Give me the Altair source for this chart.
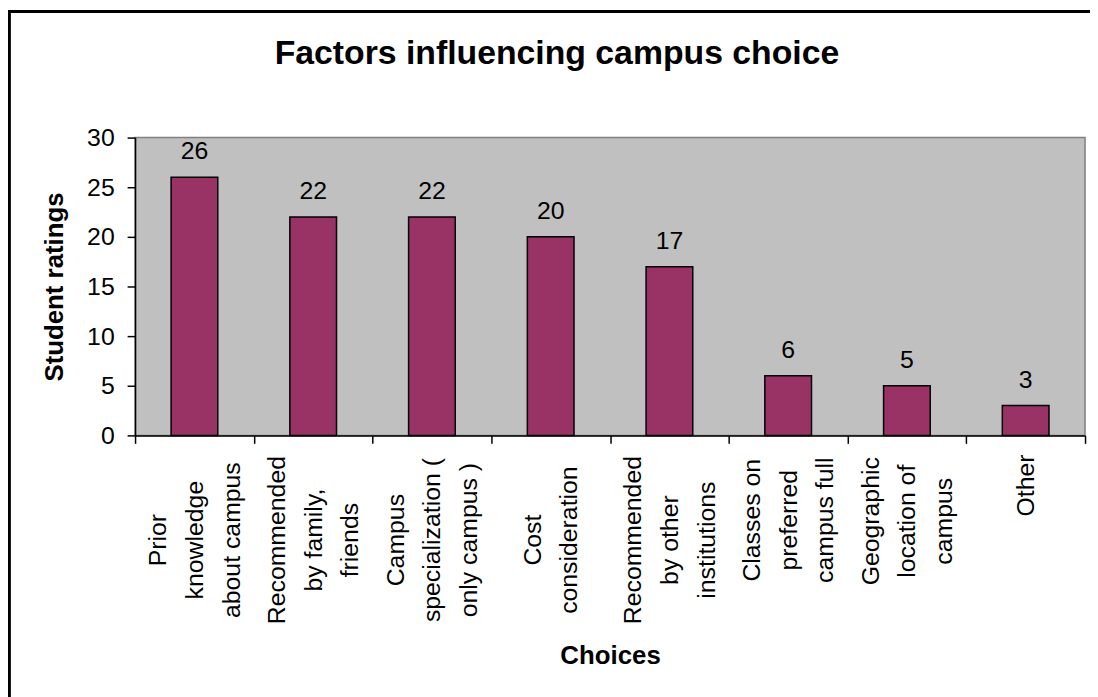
import altair as alt
import pandas as pd

# ---- data ----
title_text = "Factors influencing campus choice"
categories = [
    "Prior\nknowledge\nabout campus",
    "Recommended\nby family,\nfriends",
    "Campus\nspecialization (\nonly campus )",
    "Cost\nconsideration",
    "Recommended\nby other\ninstitutions",
    "Classes on\npreferred\ncampus full",
    "Geographic\nlocation of\ncampus",
    "Other",
]
ratings = [26, 22, 22, 20, 17, 6, 5, 3]
y_ticks = [0, 5, 10, 15, 20, 25, 30]

df = pd.DataFrame({"choice": categories, "rating": ratings})
df_title = pd.DataFrame({"t": [title_text]})

FONT = "Liberation Sans"
W, H = 957, 300
LINE_H = 37


def is_cat(name):
    return "datum.value == '" + name.replace("\n", "\\n") + "'"


# shorter label blocks sit closer to the axis (their tops line up with the others)
label_padding = {
    "condition": [
        {"test": is_cat(categories[7]), "value": 42},
        {"test": is_cat(categories[5]), "value": 77},
        {"test": is_cat(categories[6]), "value": 78},
    ],
    "value": 97,
}

# centre each multi-line block on its band
label_offset = {
    "condition": [
        {"test": is_cat(categories[7]), "value": 0},
        {"test": is_cat(categories[3]), "value": -LINE_H / 2},
    ],
    "value": -LINE_H,
}

x_enc = alt.X(
    "choice:N",
    sort=None,
    title="Choices",
    scale=alt.Scale(paddingInner=0, paddingOuter=0),
    axis=alt.Axis(
        labelAngle=270,
        labelAlign="center",
        labelBaseline="middle",
        labelExpr="split(datum.label, '\\n')",
        labelLineHeight=LINE_H,
        labelFontSize=25,
        labelPadding=label_padding,
        labelOffset=label_offset,
        labelLimit=400,
        tickBand="extent",
        tickSize=8,
        tickColor="black",
        tickWidth=1.5,
        domainColor="black",
        domainWidth=1.5,
        grid=False,
        titleFontSize=26,
        titleFontWeight="bold",
        titleBaseline="alphabetic",
        titleY=230,
    ),
)

y_enc = alt.Y(
    "rating:Q",
    title="Student ratings",
    scale=alt.Scale(domain=[0, 30], nice=False),
    axis=alt.Axis(
        values=y_ticks,
        grid=False,
        tickSize=8,
        tickColor="black",
        tickWidth=1.5,
        domainColor="black",
        domainWidth=1.5,
        labelFontSize=25,
        labelPadding=13,
        titleFontSize=26,
        titleFontWeight="bold",
        titleBaseline="alphabetic",
        titleX=-73,
        titleY=H / 2,
    ),
)

border = alt.Chart(df).mark_rect(
    fill=None, stroke="black", strokeWidth=2.5, clip=False
).encode(
    x=alt.value(-127),
    x2=alt.value(975),
    y=alt.value(-127),
    y2=alt.value(580),
)

title_mark = alt.Chart(df_title).mark_text(
    fontSize=34, fontWeight="bold", font=FONT, color="black",
    align="center", baseline="alphabetic", clip=False,
).encode(x=alt.value(425), y=alt.value(-74), text="t:N")

bars = alt.Chart(df).mark_bar(
    width=alt.RelativeBandSize(0.393),
    color="#993366",
    stroke="black",
    strokeWidth=1.5,
).encode(x=x_enc, y=y_enc)

labels = alt.Chart(df).mark_text(
    dy=-18, baseline="alphabetic", fontSize=25, font=FONT, color="black"
).encode(x=alt.X("choice:N", sort=None), y="rating:Q", text="rating:Q")

chart = (
    alt.layer(bars, labels, border, title_mark)
    .properties(
        width=W,
        height=H,
        autosize=alt.AutoSizeParams(type="none"),
        padding={"left": 128, "top": 128, "right": 5, "bottom": 261},
        background="white",
    )
    .configure_view(fill="#C0C0C0", stroke="#808080", strokeWidth=1.5)
    .configure_axis(
        labelFont=FONT,
        titleFont=FONT,
        labelColor="black",
        titleColor="black",
    )
    .configure_text(font=FONT)
)

chart.save("out.html", embed_options={"renderer": "svg", "actions": False})
